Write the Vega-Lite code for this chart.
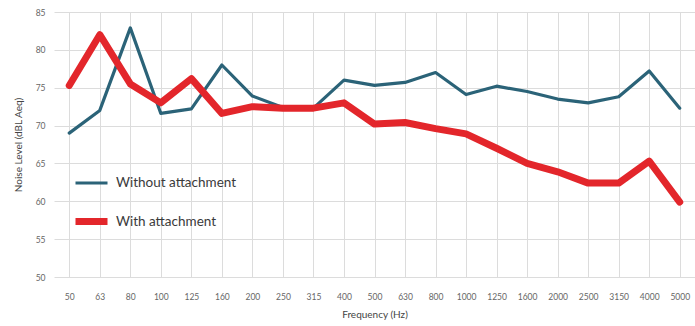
{
  "$schema": "https://vega.github.io/schema/vega-lite/v6.json",
  "width": 641,
  "height": 265,
  "autosize": {"type": "none"},
  "padding": {"left": 54, "top": 12, "right": 0, "bottom": 49},
  "background": "white",
  "config": {
    "view": {"stroke": null},
    "font": "Lato",
    "axis": {"gridColor": "#dcdcdc", "gridWidth": 1, "domain": false, "ticks": false, "labelColor": "#666", "titleColor": "#444", "labelFont": "Lato", "titleFont": "Lato", "titleFontWeight": "normal"}
  },
  "data": {
    "values": [
      {"f": "50", "s": "Without attachment", "v": 69.0},
      {"f": "63", "s": "Without attachment", "v": 72.0},
      {"f": "80", "s": "Without attachment", "v": 82.9},
      {"f": "100", "s": "Without attachment", "v": 71.6},
      {"f": "125", "s": "Without attachment", "v": 72.2},
      {"f": "160", "s": "Without attachment", "v": 78.0},
      {"f": "200", "s": "Without attachment", "v": 73.9},
      {"f": "250", "s": "Without attachment", "v": 72.4},
      {"f": "315", "s": "Without attachment", "v": 72.3},
      {"f": "400", "s": "Without attachment", "v": 76.0},
      {"f": "500", "s": "Without attachment", "v": 75.3},
      {"f": "630", "s": "Without attachment", "v": 75.7},
      {"f": "800", "s": "Without attachment", "v": 77.0},
      {"f": "1000", "s": "Without attachment", "v": 74.1},
      {"f": "1250", "s": "Without attachment", "v": 75.2},
      {"f": "1600", "s": "Without attachment", "v": 74.5},
      {"f": "2000", "s": "Without attachment", "v": 73.5},
      {"f": "2500", "s": "Without attachment", "v": 73.0},
      {"f": "3150", "s": "Without attachment", "v": 73.8},
      {"f": "4000", "s": "Without attachment", "v": 77.2},
      {"f": "5000", "s": "Without attachment", "v": 72.3},
      {"f": "50", "s": "With attachment", "v": 75.3},
      {"f": "63", "s": "With attachment", "v": 82.0},
      {"f": "80", "s": "With attachment", "v": 75.5},
      {"f": "100", "s": "With attachment", "v": 73.0},
      {"f": "125", "s": "With attachment", "v": 76.2},
      {"f": "160", "s": "With attachment", "v": 71.6},
      {"f": "200", "s": "With attachment", "v": 72.5},
      {"f": "250", "s": "With attachment", "v": 72.3},
      {"f": "315", "s": "With attachment", "v": 72.3},
      {"f": "400", "s": "With attachment", "v": 73.0},
      {"f": "500", "s": "With attachment", "v": 70.2},
      {"f": "630", "s": "With attachment", "v": 70.4},
      {"f": "800", "s": "With attachment", "v": 69.6},
      {"f": "1000", "s": "With attachment", "v": 68.9},
      {"f": "1250", "s": "With attachment", "v": 67.0},
      {"f": "1600", "s": "With attachment", "v": 65.0},
      {"f": "2000", "s": "With attachment", "v": 63.9},
      {"f": "2500", "s": "With attachment", "v": 62.4},
      {"f": "3150", "s": "With attachment", "v": 62.4},
      {"f": "4000", "s": "With attachment", "v": 65.3},
      {"f": "5000", "s": "With attachment", "v": 59.9}
    ]
  },
  "encoding": {
    "x": {
      "field": "f", "type": "ordinal", "sort": null,
      "scale": {"type": "point", "paddingOuter": 0.45},
      "axis": {"title": "Frequency (Hz)", "labelAngle": 0, "labelFontSize": 8.5, "labelPadding": 15, "titleFontSize": 10, "titlePadding": 9, "grid": true}
    },
    "y": {
      "field": "v", "type": "quantitative",
      "scale": {"domain": [50, 85], "nice": false, "zero": false},
      "axis": {"title": "Noise Level (dBL Aeq)", "values": [50, 55, 60, 65, 70, 75, 80, 85], "labelFontSize": 8.5, "labelPadding": 9, "titleFontSize": 10, "titlePadding": 12}
    },
    "color": {
      "field": "s", "type": "nominal",
      "scale": {"domain": ["Without attachment", "With attachment"], "range": ["#2b6378", "#e3262b"]},
      "legend": {"title": null, "orient": "none", "legendX": 18, "legendY": 153, "padding": 0, "symbolType": "stroke", "symbolSize": 1024, "symbolStrokeWidth": 5, "labelFontSize": 13.5, "labelColor": "#3a3a3a", "labelFont": "Lato", "labelOffset": 5, "rowPadding": 12, "labelLimit": 300}
    },
    "strokeWidth": {
      "field": "s", "type": "nominal",
      "scale": {"domain": ["Without attachment", "With attachment"], "range": [3.2, 7]},
      "legend": null
    }
  },
  "layer": [
    {
      "transform": [{"filter": "datum.s === 'Without attachment'"}],
      "mark": {"type": "line", "strokeJoin": "round", "strokeCap": "round"}
    },
    {
      "transform": [{"filter": "datum.s === 'With attachment'"}],
      "mark": {"type": "line", "strokeJoin": "round", "strokeCap": "round"}
    }
  ]
}
